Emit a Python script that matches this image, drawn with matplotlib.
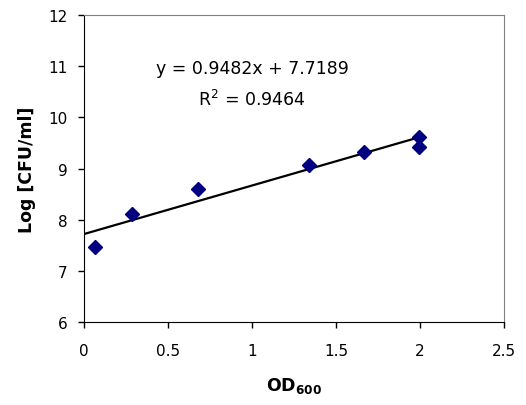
import matplotlib
matplotlib.use('Agg')
import matplotlib.pyplot as plt

# the original chart is a horizontally stretched Arial; DejaVu Sans is wider and matches better
plt.rcParams['font.family'] = ['DejaVu Sans']
plt.rcParams['mathtext.fontset'] = 'custom'
plt.rcParams['mathtext.rm'] = 'DejaVu Sans'
plt.rcParams['mathtext.bf'] = 'DejaVu Sans:bold'

# measured points (OD600 vs log CFU/ml)
od600 = [0.068, 0.288, 0.676, 1.337, 1.669, 1.995, 1.995]
log_cfu = [7.47, 8.11, 8.60, 9.06, 9.32, 9.62, 9.43]

# linear trendline as printed on the chart
slope = 0.9482
intercept = 7.7189
r2 = 0.9464
trend_x = [0.01, 2.0]

x_ticks = [0, 0.5, 1, 1.5, 2, 2.5]
y_ticks = [6, 7, 8, 9, 10, 11, 12]

fig = plt.figure(figsize=(5.26, 4.06), dpi=100)
ax = fig.add_axes([0.1597, 0.2044, 0.7983, 0.7562])

trend_y = [slope * v + intercept for v in trend_x]
ax.plot(trend_x, trend_y, color='black', lw=1.6, zorder=2)
ax.plot(od600, log_cfu, ls='none', marker='D', ms=7, color='#000080',
        mec='#000080', zorder=3)

ax.set_xlim(0, 2.5)
ax.set_ylim(6, 12)
ax.set_xticks(x_ticks)
ax.set_xticklabels(['0', '0.5', '1', '1.5', '2', '2.5'])
ax.set_yticks(y_ticks)

for s in ['top', 'right']:
    ax.spines[s].set_color('#808080')
for s in ['left', 'bottom']:
    ax.spines[s].set_color('black')
ax.tick_params(axis='both', direction='out', length=4, width=1, labelsize=11)
ax.tick_params(axis='x', pad=11)
ax.tick_params(axis='y', pad=8)

ax.set_xlabel(r'$\mathbf{OD}_{\mathbf{600}}$', fontsize=12.5, labelpad=12)
ax.set_ylabel('Log [CFU/ml]', fontsize=12.5, fontweight='bold', labelpad=9)

ax.text(0.40, 0.827, 'y = %.4fx + %.4f' % (slope, intercept), transform=ax.transAxes,
        ha='center', va='center', fontsize=12.5)
ax.text(0.40, 0.726, r'R$^2$ = %.4f' % r2, transform=ax.transAxes,
        ha='center', va='center', fontsize=12.5)

fig.savefig('out.png', dpi=100)
